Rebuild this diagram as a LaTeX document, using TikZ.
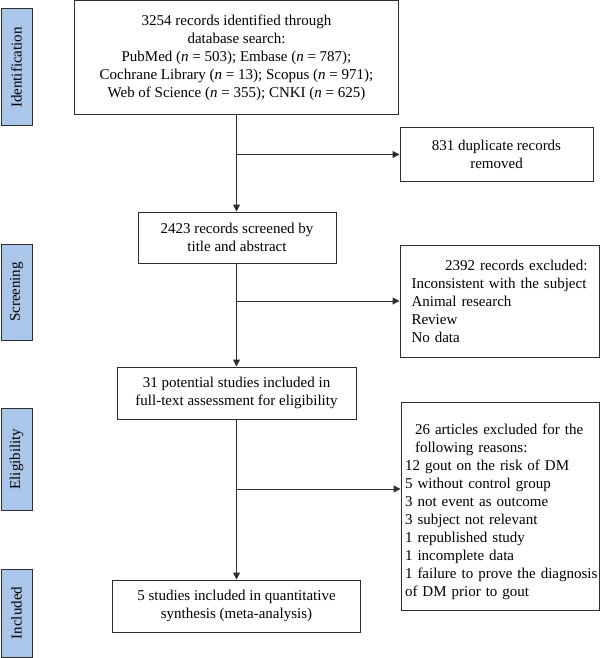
\documentclass[tikz,border=0pt]{standalone}
\usepackage{fontspec}
\setmainfont{Liberation Serif}
\usetikzlibrary{arrows.meta}
\definecolor{stage}{RGB}{170,198,232}
\definecolor{lin}{RGB}{45,45,45}
\tikzset{
  box/.style={draw=lin, line width=1pt, align=center, inner sep=2pt, font=\fontsize{15}{18}\selectfont},
  stagebox/.style={draw=lin, line width=1pt, fill=stage, rotate=90, minimum height=31pt, inner sep=0pt, font=\fontsize{15}{18}\selectfont},
  conn/.style={draw=lin, line width=1pt},
  arr/.style={conn, -{Triangle[length=7pt,width=7pt]}}
}
\begin{document}
\begin{tikzpicture}[x=1pt,y=-1pt]
\useasboundingbox (0,0) rectangle (600,658);
% stage labels
\node[stagebox, minimum width=117pt] (s1) at (16.5,67.5) {Identification};
\node[stagebox, minimum width=96pt] (s2) at (16.5,292) {Screening};
\node[stagebox, minimum width=102pt] (s3) at (16.5,459) {Eligibility};
\node[stagebox, minimum width=88pt] (s4) at (16.5,613) {Included};
% main boxes
\node[box, minimum width=324pt, minimum height=114pt] (top) at (236.5,58)
 {3254 records identified through\\ database search:\\ PubMed (\textit{n} = 503); Embase (\textit{n} = 787);\\ Cochrane Library (\textit{n} = 13); Scopus (\textit{n} = 971);\\ Web of Science (\textit{n} = 355); CNKI (\textit{n} = 625)};
\node[box, minimum width=193pt, minimum height=53pt] (dup) at (496.5,154.5)
 {831 duplicate records\\ removed};
\node[box, minimum width=198pt, minimum height=51pt] (scr) at (237,237.5)
 {2423 records screened by\\ title and abstract};
\node[box, minimum width=199pt, minimum height=112pt, text width=176pt, align=left] (exc1) at (499.5,301)
 {\hfill 2392 records excluded:\\ Inconsistent with the subject\\ Animal research\\ Review\\ No data};
\node[box, minimum width=239pt, minimum height=52pt] (elig) at (236.5,393)
 {31 potential studies included in\\ full-text assessment for eligibility};
\node[box, minimum width=198pt, minimum height=208pt, text width=190pt, align=left] (exc2) at (500,506)
 {\hyphenpenalty=10000\rule{0pt}{23pt}\hspace*{10pt}26 articles excluded for the\\ \hspace*{10pt}following reasons:\\ 12 gout on the risk of DM\\ 5 without control group\\ 3 not event as outcome\\ 3 subject not relevant\\ 1 republished study\\ 1 incomplete data\\ \mbox{1 failure to prove the diagnosis}\\ of DM prior to gout};
\node[box, minimum width=248pt, minimum height=52pt] (inc) at (236.5,606)
 {5 studies included in quantitative\\ synthesis (meta-analysis)};
% connectors
\coordinate (b1) at (236.5,154.5);
\coordinate (b2) at (236.5,301);
\coordinate (b3) at (236.5,489);
\coordinate (e3) at (exc2.west |- b3);
\draw[arr] (top.south -| b1) -- (scr.north -| b1);
\draw[arr] (b1) -- (dup.west);
\draw[arr] (scr.south -| b2) -- (elig.north -| b2);
\draw[arr] (b2) -- (exc1.west);
\draw[arr] (elig.south -| b3) -- (inc.north -| b3);
\draw[arr] (b3) -- (e3);
\end{tikzpicture}
\end{document}
